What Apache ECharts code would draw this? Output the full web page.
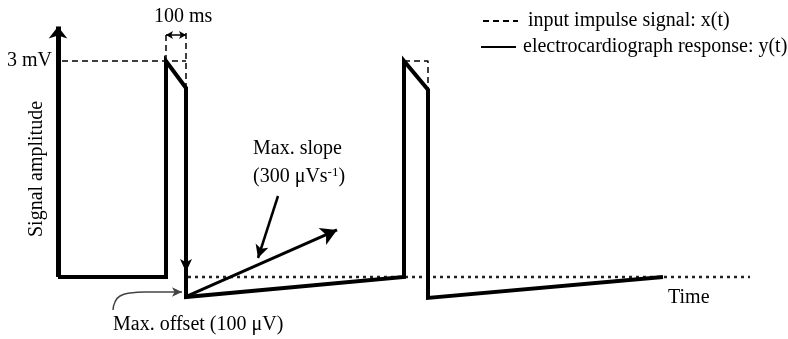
<!DOCTYPE html>
<html><head><meta charset="utf-8">
<script src="https://cdn.jsdelivr.net/npm/echarts@6/dist/echarts.min.js"></script>
<style>html,body{margin:0;padding:0;background:#fff}#c{width:788px;height:339px}</style>
</head><body><div id="c"></div>
<script>
const FONT = '"Liberation Serif", "Times New Roman", serif';
// Schematic data: time in ms, amplitude in mV
const responseT = [0, 540, 540, 640, 640, 1730, 1730, 1850, 1850, 3025];
const responseV = [0, 0, 3, 2.625, -0.278, 0, 3, 2.6, -0.29, 0];
const inputTopT = [-30, 640];
const inputTopV = [3, 3];
const inputPulse2T = [1730, 1850, 1850];
const inputPulse2V = [3, 3, 2.6];
const ext1T = [540, 540];
const ext1V = [3, 3.39];
const ext2T = [640, 640];
const ext2V = [3.39, 2.625];
const baselineT = [650, 3460];
const baselineV = [0, 0];
const widthArrowT = [540, 640];
const widthArrowV = [3.36, 3.36];
const yAxisArrowT = [0, 0];
const yAxisArrowV = [0, 3.48];
const slopeArrowT = [645, 1395];
const slopeArrowV = [-0.264, 0.653];
const slopePointerT = [1100, 1000];
const slopePointerV = [1.125, 0.264];
const dropArrowT = [640, 640];
const dropArrowV = [0.45, 0.07];
const offsetCurveT = [275, 285, 310, 360, 435];
const offsetCurveV = [-0.458, -0.347, -0.264, -0.222, -0.208];
const offsetArrowT = [435, 620];
const offsetArrowV = [-0.208, -0.208];
const yTickValue = 3;
const yTickText = '3 mV';
const inputName = 'input impulse signal: x(t)';
const responseName = 'electrocardiograph response: y(t)';

const zip = (t, v) => t.map((x, i) => [x, v[i]]);

function lineSeries(name, t, v, style, z) {
  return { type: 'line', name, data: zip(t, v), symbol: 'none', showSymbol: false,
    silent: true, animation: false, z: z || 2, lineStyle: style, clip: false,
    itemStyle: { color: style.color } };
}
function arrowSeries(name, t, v, width, size, both, color) {
  return { type: 'line', name, data: [], symbol: 'none', silent: true, animation: false, z: 4,
    markLine: { silent: true, animation: false, symbol: [both ? 'arrow' : 'none', 'arrow'],
      symbolSize: size, label: { show: false },
      lineStyle: { color: color || '#000', width, type: 'solid' },
      itemStyle: { color: color || '#000' },
      data: [[{ coord: [t[0], v[0]] }, { coord: [t[1], v[1]] }]] } };
}

const dashStyle = { color: '#000', width: 1.5, type: [6, 4] };
const legendCommon = { padding: 0, itemWidth: 35, itemHeight: 14, selectedMode: false,
  itemStyle: { opacity: 0, borderWidth: 0 } };

const chart = echarts.init(document.getElementById('c'), null, { renderer: 'canvas' });
chart.setOption({
  animation: false,
  backgroundColor: '#fff',
  grid: { left: 58, right: 38, top: 25, bottom: 26, containLabel: false, outerBoundsMode: 'none' },
  xAxis: { type: 'value', min: 0, max: 3460, show: false },
  yAxis: { type: 'value', min: -0.5, max: 3.5, interval: 0.5,
    axisLine: { show: false }, axisTick: { show: false }, splitLine: { show: false },
    axisLabel: { margin: 6, color: '#000', fontFamily: FONT, fontSize: 20,
      formatter: v => (Math.abs(v - yTickValue) < 1e-9 ? yTickText : '') },
    name: 'Signal amplitude', nameLocation: 'middle', nameRotate: 90, nameGap: 11,
    nameMoveOverlap: false,
    nameTextStyle: { color: '#000', fontFamily: FONT, fontSize: 20 } },
  legend: [
    Object.assign({ data: [inputName], left: 482, top: 11,
      textStyle: { color: '#000', fontFamily: FONT, fontSize: 20, padding: [0, 0, 0, 5] } }, legendCommon),
    Object.assign({ data: [responseName], left: 480, top: 37,
      textStyle: { color: '#000', fontFamily: FONT, fontSize: 20, padding: [0, 0, 0, 2] } }, legendCommon)
  ],
  series: [
    lineSeries('baseline', baselineT, baselineV, { color: '#222', width: 2.5, type: [3, 4] }, 1),
    lineSeries(inputName, inputTopT, inputTopV, dashStyle, 2),
    lineSeries('pulse2 input', inputPulse2T, inputPulse2V, dashStyle, 2),
    lineSeries('ext1', ext1T, ext1V, dashStyle, 2),
    lineSeries('ext2', ext2T, ext2V, dashStyle, 2),
    lineSeries(responseName, responseT, responseV, { color: '#000', width: 4, type: 'solid', join: 'miter' }, 3),
    Object.assign(lineSeries('offset curve', offsetCurveT, offsetCurveV, { color: '#444', width: 1.5 }, 3), { smooth: 0.5 }),
    arrowSeries('y axis', yAxisArrowT, yAxisArrowV, 5, [14, 12], false),
    arrowSeries('width arrow', widthArrowT, widthArrowV, 1.5, [6, 7], true),
    arrowSeries('drop arrow', dropArrowT, dropArrowV, 1.5, [9, 13], false),
    arrowSeries('slope arrow', slopeArrowT, slopeArrowV, 3, [14, 16], false),
    arrowSeries('slope pointer', slopePointerT, slopePointerV, 2.5, [10, 13], false),
    arrowSeries('offset arrow', offsetArrowT, offsetArrowV, 1.5, [7, 10], false, '#444')
  ],
  graphic: [
    { type: 'text', x: 154, y: 17, silent: true, style: { text: '100 ms', font: '20px ' + FONT, fill: '#000', align: 'left', verticalAlign: 'middle' } },
    { type: 'text', x: 253, y: 149, silent: true, style: { text: 'Max. slope', font: '20px ' + FONT, fill: '#000', align: 'left', verticalAlign: 'middle' } },
    { type: 'text', x: 253, y: 177, silent: true, style: { text: '{a|(300 μVs}{s|-1}{a|)}', fill: '#000', align: 'left', verticalAlign: 'middle',
        rich: { a: { fontFamily: FONT, fontSize: 20, lineHeight: 22, fill: '#000' }, s: { fontFamily: FONT, fontSize: 13, lineHeight: 13, verticalAlign: 'top', fill: '#000' } } } },
    { type: 'text', x: 113, y: 325, silent: true, style: { text: 'Max. offset (100 μV)', font: '20px ' + FONT, fill: '#000', align: 'left', verticalAlign: 'middle' } },
    { type: 'text', x: 668, y: 298, silent: true, style: { text: 'Time', font: '20px ' + FONT, fill: '#000', align: 'left', verticalAlign: 'middle' } }
  ]
});
</script></body></html>
